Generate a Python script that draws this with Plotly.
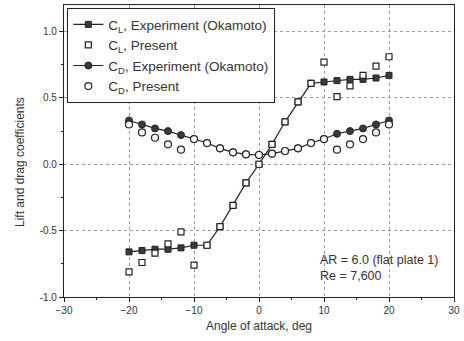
import plotly.graph_objects as go

alpha = [-20, -18, -16, -14, -12, -10, -8, -6, -4, -2, 0, 2, 4, 6, 8, 10, 12, 14, 16, 18, 20]

cl_exp = [-0.66, -0.65, -0.64, -0.64, -0.63, -0.61, -0.61, -0.47, -0.31, -0.14, 0.0,
          0.15, 0.32, 0.47, 0.61, 0.62, 0.63, 0.64, 0.64, 0.65, 0.67]
cl_present = [-0.81, -0.74, -0.67, -0.60, -0.51, -0.76, -0.61, -0.47, -0.31, -0.14, 0.0,
              0.15, 0.32, 0.47, 0.61, 0.77, 0.51, 0.59, 0.67, 0.74, 0.81]
cd_exp = [0.33, 0.30, 0.27, 0.25, 0.22, 0.19, 0.16, 0.12, 0.09, 0.075, 0.07,
          0.08, 0.10, 0.12, 0.16, 0.19, 0.23, 0.25, 0.27, 0.30, 0.33]
cd_present = [0.30, 0.24, 0.20, 0.15, 0.11, 0.19, 0.16, 0.12, 0.09, 0.075, 0.07,
              0.08, 0.10, 0.12, 0.16, 0.19, 0.11, 0.15, 0.19, 0.24, 0.30]

x_ticks = [-30, -20, -10, 0, 10, 20, 30]
y_ticks = [-1.0, -0.5, 0.0, 0.5, 1.0]
y_tick_text = ["-1.0", "-0.5", "0.0", "0.5", "1.0"]

font = "Liberation Sans, Arial, sans-serif"
dark = "#3a3a3a"

fig = go.Figure()
fig.add_trace(go.Scatter(x=alpha, y=cl_exp, mode="lines+markers",
                         name="C<sub>L</sub>, Experiment (Okamoto)",
                         line=dict(color="#222", width=1.2),
                         marker=dict(symbol="square", size=6, color=dark,
                                     line=dict(color="#222", width=1))))
fig.add_trace(go.Scatter(x=alpha, y=cl_present, mode="markers",
                         name="C<sub>L</sub>, Present",
                         marker=dict(symbol="square", size=6, color="white",
                                     line=dict(color="#222", width=1.2))))
fig.add_trace(go.Scatter(x=alpha, y=cd_exp, mode="lines+markers",
                         name="C<sub>D</sub>, Experiment (Okamoto)",
                         line=dict(color="#222", width=1.2),
                         marker=dict(symbol="circle", size=7, color=dark,
                                     line=dict(color="#222", width=1))))
fig.add_trace(go.Scatter(x=alpha, y=cd_present, mode="markers",
                         name="C<sub>D</sub>, Present",
                         marker=dict(symbol="circle", size=7, color="white",
                                     line=dict(color="#222", width=1.2))))

axis_common = dict(showline=True, linecolor="#222", linewidth=1.2, mirror=True,
                   ticks="outside", ticklen=4, tickcolor="#222",
                   showgrid=True, gridcolor="#999", griddash="dot", gridwidth=1,
                   zeroline=False, automargin=False,
                   tickfont=dict(family=font, size=10, color="#333"))

fig.update_xaxes(range=[-30, 30], tickvals=x_ticks,
                 minor=dict(ticks="outside", ticklen=2, dtick=5, tickcolor="#222", showgrid=False),
                 title=dict(text="Angle of attack, deg", font=dict(family=font, size=12, color="#333"),
                            standoff=6),
                 **axis_common)
fig.update_yaxes(range=[-1.0, 1.2], tickvals=y_ticks, ticktext=y_tick_text,
                 minor=dict(ticks="outside", ticklen=2, dtick=0.25, tickcolor="#222", showgrid=False),
                 **axis_common)

fig.add_annotation(x=-0.113, y=0.462, xref="paper", yref="paper", xanchor="center", yanchor="middle",
                   text="Lift and drag coefficients", textangle=-90, showarrow=False,
                   font=dict(family=font, size=12, color="#333"))

fig.add_annotation(x=9, y=-0.78, xref="x", yref="y", xanchor="left", yanchor="middle",
                   text="AR = 6.0 (flat plate 1)<br>Re = 7,600", showarrow=False, align="left",
                   font=dict(family=font, size=12.5, color="#333"))

fig.update_layout(
    width=464, height=341,
    margin=dict(l=64, r=10, t=5, b=44),
    paper_bgcolor="white", plot_bgcolor="white",
    showlegend=True,
    legend=dict(x=0.008, y=0.99, xanchor="left", yanchor="top",
                bgcolor="white", bordercolor="#222", borderwidth=1.2,
                font=dict(family=font, size=13.5, color="#333"),
                tracegroupgap=0, itemwidth=30),
)

fig.write_html("out.html", config={"displayModeBar": False},
               post_script="document.body.style.margin='0';")
